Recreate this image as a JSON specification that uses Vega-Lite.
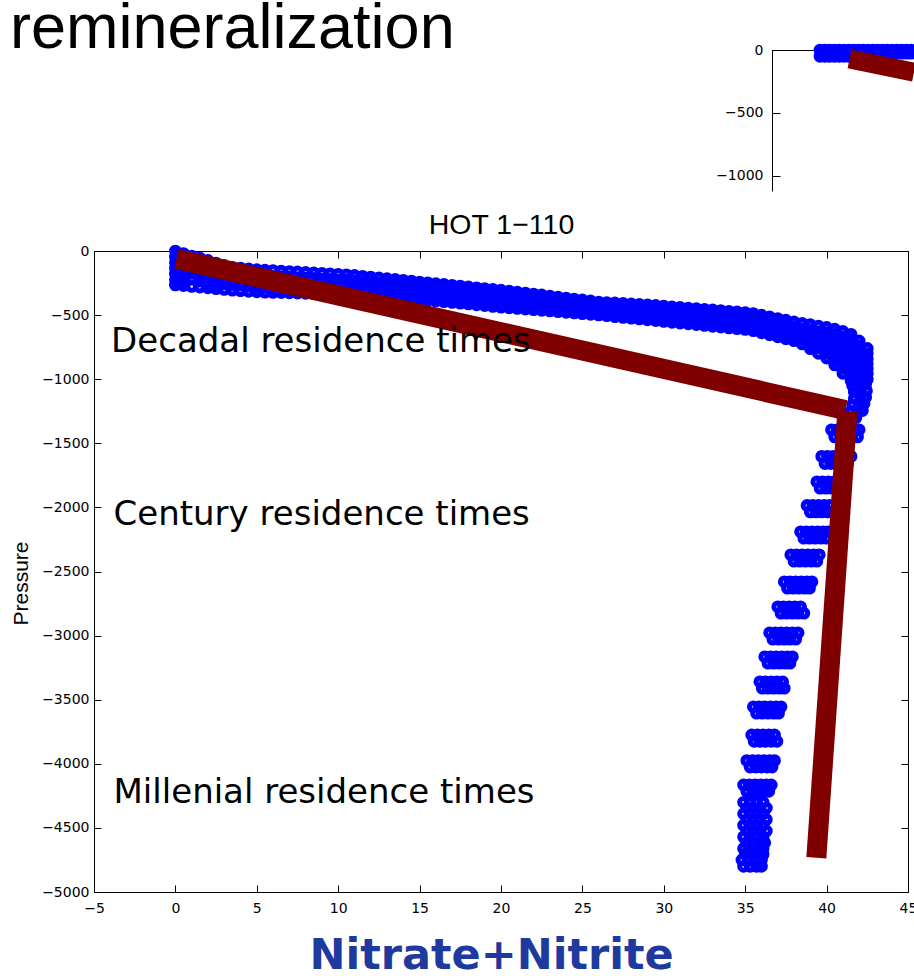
{
  "$schema": "https://vega.github.io/schema/vega-lite/v6.json",
  "background": "white",
  "padding": {"left": 10, "top": -3, "right": 0, "bottom": 0},
  "width": 814,
  "height": 641,
  "title": {
    "text": "remineralization",
    "anchor": "start",
    "frame": "group",
    "font": "Liberation Sans",
    "fontSize": 63,
    "fontWeight": "normal",
    "color": "black",
    "baseline": "alphabetic",
    "offset": -90,
    "dx": -84
  },
  "config": {
    "view": {"stroke": null},
    "font": "DejaVu Sans",
    "axis": {
      "grid": false,
      "domainColor": "black",
      "domainWidth": 1,
      "tickColor": "black",
      "tickWidth": 1,
      "labelColor": "black",
      "labelFont": "DejaVu Sans",
      "labelFontSize": 14,
      "labelFlush": false,
      "labelOverlap": false,
      "format": "d"
    }
  },
  "datasets": {
    "hot": [
      {"n":0,"p":0},{"n":0,"p":-45},{"n":0,"p":-90},{"n":0,"p":-135},{"n":0,"p":-180},{"n":0,"p":-225},{"n":0,"p":-265},
      {"n":0.25,"p":-22},{"n":0.25,"p":-67},{"n":0.25,"p":-112},{"n":0.25,"p":-157},{"n":0.25,"p":-202},{"n":0.25,"p":-247},
      {"n":0.5,"p":-20},{"n":0.5,"p":-65},{"n":0.5,"p":-110},{"n":0.5,"p":-155},{"n":0.5,"p":-200},{"n":0.5,"p":-245},{"n":0.5,"p":-270},
      {"n":1,"p":-40},{"n":1,"p":-85},{"n":1,"p":-130},{"n":1,"p":-175},{"n":1,"p":-220},{"n":1,"p":-276},
      {"n":1.5,"p":-55},{"n":1.5,"p":-100},{"n":1.5,"p":-145},{"n":1.5,"p":-190},{"n":1.5,"p":-235},{"n":1.5,"p":-281},
      {"n":2,"p":-74},{"n":2,"p":-120},{"n":2,"p":-165},{"n":2,"p":-210},{"n":2,"p":-250},{"n":2,"p":-287},
      {"n":2.5,"p":-94},{"n":2.5,"p":-140},{"n":2.5,"p":-185},{"n":2.5,"p":-230},{"n":2.5,"p":-270},{"n":2.5,"p":-294},
      {"n":3,"p":-113},{"n":3,"p":-160},{"n":3,"p":-205},{"n":3,"p":-255},{"n":3,"p":-300},
      {"n":3.5,"p":-127},{"n":3.5,"p":-172},{"n":3.5,"p":-217},{"n":3.5,"p":-262},{"n":3.5,"p":-306},
      {"n":4,"p":-133},{"n":4,"p":-178},{"n":4,"p":-222},{"n":4,"p":-266},{"n":4,"p":-310},
      {"n":4.5,"p":-140},{"n":4.5,"p":-185},{"n":4.5,"p":-230},{"n":4.5,"p":-272},{"n":4.5,"p":-314},
      {"n":5,"p":-146},{"n":5,"p":-190},{"n":5,"p":-235},{"n":5,"p":-278},{"n":5,"p":-318},
      {"n":5.5,"p":-150},{"n":5.5,"p":-195},{"n":5.5,"p":-240},{"n":5.5,"p":-282},{"n":5.5,"p":-321},
      {"n":6,"p":-153},{"n":6,"p":-198},{"n":6,"p":-243},{"n":6,"p":-285},{"n":6,"p":-323},
      {"n":6.5,"p":-156},{"n":6.5,"p":-200},{"n":6.5,"p":-245},{"n":6.5,"p":-288},{"n":6.5,"p":-324},
      {"n":7,"p":-160},{"n":7,"p":-204},{"n":7,"p":-248},{"n":7,"p":-290},{"n":7,"p":-326},
      {"n":7.5,"p":-163},{"n":7.5,"p":-207},{"n":7.5,"p":-251},{"n":7.5,"p":-292},{"n":7.5,"p":-328},
      {"n":8,"p":-167},{"n":8,"p":-210},{"n":8,"p":-254},{"n":8,"p":-295},{"n":8,"p":-330},
      {"n":8.5,"p":-171},{"n":8.5,"p":-214},{"n":8.5,"p":-257},{"n":8.5,"p":-298},{"n":8.5,"p":-332},
      {"n":9,"p":-174},{"n":9,"p":-218},{"n":9,"p":-260},{"n":9,"p":-300},{"n":9,"p":-335},
      {"n":9.5,"p":-178},{"n":9.5,"p":-222},{"n":9.5,"p":-263},{"n":9.5,"p":-302},{"n":9.5,"p":-337},
      {"n":10,"p":-182},{"n":10,"p":-225},{"n":10,"p":-266},{"n":10,"p":-305},{"n":10,"p":-340},
      {"n":10.5,"p":-186},{"n":10.5,"p":-228},{"n":10.5,"p":-270},{"n":10.5,"p":-308},{"n":10.5,"p":-342},
      {"n":11,"p":-191},{"n":11,"p":-232},{"n":11,"p":-273},{"n":11,"p":-312},{"n":11,"p":-345},
      {"n":11.5,"p":-197},{"n":11.5,"p":-237},{"n":11.5,"p":-277},{"n":11.5,"p":-315},{"n":11.5,"p":-349},
      {"n":12,"p":-203},{"n":12,"p":-242},{"n":12,"p":-282},{"n":12,"p":-320},{"n":12,"p":-353},
      {"n":12.5,"p":-210},{"n":12.5,"p":-248},{"n":12.5,"p":-286},{"n":12.5,"p":-324},{"n":12.5,"p":-357},
      {"n":13,"p":-216},{"n":13,"p":-253},{"n":13,"p":-290},{"n":13,"p":-328},{"n":13,"p":-361},
      {"n":13.5,"p":-222},{"n":13.5,"p":-258},{"n":13.5,"p":-295},{"n":13.5,"p":-332},{"n":13.5,"p":-365},
      {"n":14,"p":-229},{"n":14,"p":-264},{"n":14,"p":-300},{"n":14,"p":-336},{"n":14,"p":-369},
      {"n":14.5,"p":-235},{"n":14.5,"p":-270},{"n":14.5,"p":-305},{"n":14.5,"p":-340},{"n":14.5,"p":-374},
      {"n":15,"p":-242},{"n":15,"p":-276},{"n":15,"p":-310},{"n":15,"p":-345},{"n":15,"p":-379},
      {"n":15.5,"p":-248},{"n":15.5,"p":-282},{"n":15.5,"p":-316},{"n":15.5,"p":-350},{"n":15.5,"p":-384},
      {"n":16,"p":-255},{"n":16,"p":-288},{"n":16,"p":-322},{"n":16,"p":-356},{"n":16,"p":-390},
      {"n":16.5,"p":-261},{"n":16.5,"p":-295},{"n":16.5,"p":-328},{"n":16.5,"p":-362},{"n":16.5,"p":-395},
      {"n":17,"p":-268},{"n":17,"p":-301},{"n":17,"p":-334},{"n":17,"p":-368},{"n":17,"p":-401},
      {"n":17.5,"p":-274},{"n":17.5,"p":-307},{"n":17.5,"p":-340},{"n":17.5,"p":-374},{"n":17.5,"p":-407},
      {"n":18,"p":-280},{"n":18,"p":-313},{"n":18,"p":-346},{"n":18,"p":-380},{"n":18,"p":-413},
      {"n":18.5,"p":-287},{"n":18.5,"p":-320},{"n":18.5,"p":-353},{"n":18.5,"p":-387},{"n":18.5,"p":-420},
      {"n":19,"p":-293},{"n":19,"p":-326},{"n":19,"p":-359},{"n":19,"p":-393},{"n":19,"p":-426},
      {"n":19.5,"p":-299},{"n":19.5,"p":-332},{"n":19.5,"p":-365},{"n":19.5,"p":-399},{"n":19.5,"p":-432},
      {"n":20,"p":-306},{"n":20,"p":-339},{"n":20,"p":-372},{"n":20,"p":-405},{"n":20,"p":-438},
      {"n":20.5,"p":-313},{"n":20.5,"p":-345},{"n":20.5,"p":-378},{"n":20.5,"p":-410},{"n":20.5,"p":-443},
      {"n":21,"p":-321},{"n":21,"p":-353},{"n":21,"p":-385},{"n":21,"p":-416},{"n":21,"p":-448},
      {"n":21.5,"p":-328},{"n":21.5,"p":-359},{"n":21.5,"p":-390},{"n":21.5,"p":-422},{"n":21.5,"p":-453},
      {"n":22,"p":-336},{"n":22,"p":-366},{"n":22,"p":-397},{"n":22,"p":-428},{"n":22,"p":-458},
      {"n":22.5,"p":-343},{"n":22.5,"p":-373},{"n":22.5,"p":-403},{"n":22.5,"p":-433},{"n":22.5,"p":-463},
      {"n":23,"p":-351},{"n":23,"p":-380},{"n":23,"p":-410},{"n":23,"p":-439},{"n":23,"p":-468},
      {"n":23.5,"p":-359},{"n":23.5,"p":-387},{"n":23.5,"p":-416},{"n":23.5,"p":-445},{"n":23.5,"p":-473},
      {"n":24,"p":-367},{"n":24,"p":-395},{"n":24,"p":-423},{"n":24,"p":-450},{"n":24,"p":-478},
      {"n":24.5,"p":-375},{"n":24.5,"p":-402},{"n":24.5,"p":-429},{"n":24.5,"p":-456},{"n":24.5,"p":-483},
      {"n":25,"p":-382},{"n":25,"p":-409},{"n":25,"p":-436},{"n":25,"p":-462},{"n":25,"p":-489},
      {"n":25.5,"p":-390},{"n":25.5,"p":-416},{"n":25.5,"p":-442},{"n":25.5,"p":-468},{"n":25.5,"p":-494},
      {"n":26,"p":-398},{"n":26,"p":-423},{"n":26,"p":-448},{"n":26,"p":-474},{"n":26,"p":-499},
      {"n":26.5,"p":-402},{"n":26.5,"p":-428},{"n":26.5,"p":-454},{"n":26.5,"p":-480},{"n":26.5,"p":-505},
      {"n":27,"p":-405},{"n":27,"p":-432},{"n":27,"p":-459},{"n":27,"p":-485},{"n":27,"p":-512},
      {"n":27.5,"p":-409},{"n":27.5,"p":-436},{"n":27.5,"p":-464},{"n":27.5,"p":-491},{"n":27.5,"p":-518},
      {"n":28,"p":-413},{"n":28,"p":-441},{"n":28,"p":-469},{"n":28,"p":-496},{"n":28,"p":-524},
      {"n":28.5,"p":-417},{"n":28.5,"p":-445},{"n":28.5,"p":-474},{"n":28.5,"p":-502},{"n":28.5,"p":-530},
      {"n":29,"p":-420},{"n":29,"p":-449},{"n":29,"p":-478},{"n":29,"p":-508},{"n":29,"p":-537},
      {"n":29.5,"p":-425},{"n":29.5,"p":-455},{"n":29.5,"p":-484},{"n":29.5,"p":-514},{"n":29.5,"p":-543},
      {"n":30,"p":-430},{"n":30,"p":-460},{"n":30,"p":-490},{"n":30,"p":-520},{"n":30,"p":-549},
      {"n":30.5,"p":-435},{"n":30.5,"p":-465},{"n":30.5,"p":-495},{"n":30.5,"p":-526},{"n":30.5,"p":-556},
      {"n":31,"p":-440},{"n":31,"p":-470},{"n":31,"p":-501},{"n":31,"p":-531},{"n":31,"p":-562},
      {"n":31.5,"p":-445},{"n":31.5,"p":-476},{"n":31.5,"p":-506},{"n":31.5,"p":-537},{"n":31.5,"p":-568},
      {"n":32,"p":-450},{"n":32,"p":-481},{"n":32,"p":-512},{"n":32,"p":-543},{"n":32,"p":-574},
      {"n":32.5,"p":-455},{"n":32.5,"p":-486},{"n":32.5,"p":-518},{"n":32.5,"p":-549},{"n":32.5,"p":-581},
      {"n":33,"p":-460},{"n":33,"p":-492},{"n":33,"p":-523},{"n":33,"p":-555},{"n":33,"p":-587},
      {"n":33.5,"p":-465},{"n":33.5,"p":-497},{"n":33.5,"p":-529},{"n":33.5,"p":-561},{"n":33.5,"p":-593},
      {"n":34,"p":-470},{"n":34,"p":-502},{"n":34,"p":-535},{"n":34,"p":-567},{"n":34,"p":-600},
      {"n":34.5,"p":-475},{"n":34.5,"p":-508},{"n":34.5,"p":-540},{"n":34.5,"p":-573},{"n":34.5,"p":-606},
      {"n":35,"p":-480},{"n":35,"p":-513},{"n":35,"p":-546},{"n":35,"p":-579},{"n":35,"p":-612},
      {"n":35.5,"p":-488},{"n":35.5,"p":-521},{"n":35.5,"p":-555},{"n":35.5,"p":-588},{"n":35.5,"p":-622},
      {"n":36,"p":-501},{"n":36,"p":-535},{"n":36,"p":-569},{"n":36,"p":-604},{"n":36,"p":-638},
      {"n":36.5,"p":-514},{"n":36.5,"p":-549},{"n":36.5,"p":-584},{"n":36.5,"p":-619},{"n":36.5,"p":-654},
      {"n":37,"p":-527},{"n":37,"p":-562},{"n":37,"p":-598},{"n":37,"p":-633},{"n":37,"p":-669},
      {"n":37.5,"p":-540},{"n":37.5,"p":-576},{"n":37.5,"p":-612},{"n":37.5,"p":-648},{"n":37.5,"p":-685},
      {"n":38,"p":-553},{"n":38,"p":-590},{"n":38,"p":-626},{"n":38,"p":-663},{"n":38,"p":-700},
      {"n":38.5,"p":-565},{"n":38.5,"p":-605},{"n":38.5,"p":-645},{"n":38.5,"p":-685},{"n":38.5,"p":-725},
      {"n":39,"p":-575},{"n":39,"p":-613},{"n":39,"p":-650},{"n":39,"p":-688},{"n":39,"p":-725},{"n":39,"p":-762},
      {"n":39.5,"p":-586},{"n":39.5,"p":-628},{"n":39.5,"p":-670},{"n":39.5,"p":-712},{"n":39.5,"p":-755},{"n":39.5,"p":-798},
      {"n":40,"p":-596},{"n":40,"p":-636},{"n":40,"p":-676},{"n":40,"p":-716},{"n":40,"p":-756},{"n":40,"p":-796},{"n":40,"p":-835},
      {"n":40.5,"p":-610},{"n":40.5,"p":-650},{"n":40.5,"p":-690},{"n":40.5,"p":-730},{"n":40.5,"p":-770},{"n":40.5,"p":-810},{"n":40.5,"p":-850},{"n":40.5,"p":-889},
      {"n":41,"p":-627},{"n":41,"p":-668},{"n":41,"p":-709},{"n":41,"p":-750},{"n":41,"p":-791},{"n":41,"p":-832},{"n":41,"p":-873},{"n":41,"p":-914},{"n":41,"p":-954},
      {"n":41.5,"p":-650},{"n":41.5,"p":-690},{"n":41.5,"p":-730},{"n":41.5,"p":-770},{"n":41.5,"p":-810},{"n":41.5,"p":-850},{"n":41.5,"p":-890},{"n":41.5,"p":-930},{"n":41.5,"p":-970},{"n":41.5,"p":-1010},
      {"n":42,"p":-702},{"n":42,"p":-740},{"n":42,"p":-780},{"n":42,"p":-820},{"n":42,"p":-860},{"n":42,"p":-900},{"n":42,"p":-940},{"n":42,"p":-980},{"n":42,"p":-1032},
      {"n":42.5,"p":-760},{"n":42.5,"p":-800},{"n":42.5,"p":-840},{"n":42.5,"p":-880},{"n":42.5,"p":-920},{"n":42.5,"p":-960},{"n":42.5,"p":-1000},
      {"n":41.6,"p":-1050},{"n":42,"p":-1070},{"n":42.4,"p":-1040},{"n":41.7,"p":-1100},{"n":42.1,"p":-1110},{"n":42.45,"p":-1090},
      {"n":41.7,"p":-1150},{"n":42.1,"p":-1160},{"n":42.4,"p":-1140},{"n":41.6,"p":-1200},{"n":42,"p":-1210},{"n":42.3,"p":-1190},
      {"n":41.5,"p":-1250},{"n":41.9,"p":-1260},{"n":42.2,"p":-1245},{"n":41,"p":-1300},{"n":41.4,"p":-1310},{"n":41.8,"p":-1300},
      {"n":40.3,"p":-1395},{"n":40.65,"p":-1395},{"n":41,"p":-1395},{"n":41.35,"p":-1395},{"n":41.7,"p":-1395},{"n":42,"p":-1395},
      {"n":40.5,"p":-1450},{"n":40.85,"p":-1450},{"n":41.2,"p":-1450},{"n":41.55,"p":-1450},{"n":41.9,"p":-1450},
      {"n":39.7,"p":-1602},{"n":40.05,"p":-1602},{"n":40.4,"p":-1602},{"n":40.75,"p":-1602},{"n":41.1,"p":-1602},{"n":41.5,"p":-1602},
      {"n":39.9,"p":-1658},{"n":40.25,"p":-1658},{"n":40.6,"p":-1658},{"n":40.95,"p":-1658},{"n":41.3,"p":-1658},
      {"n":39.4,"p":-1800},{"n":39.75,"p":-1800},{"n":40.1,"p":-1800},{"n":40.45,"p":-1800},{"n":40.8,"p":-1800},{"n":41.1,"p":-1800},
      {"n":39.6,"p":-1850},{"n":39.95,"p":-1850},{"n":40.3,"p":-1850},{"n":40.65,"p":-1850},{"n":41,"p":-1850},
      {"n":38.8,"p":-1985},{"n":39.15,"p":-1985},{"n":39.5,"p":-1985},{"n":39.85,"p":-1985},{"n":40.2,"p":-1985},
      {"n":39,"p":-2035},{"n":39.35,"p":-2035},{"n":39.7,"p":-2035},{"n":40.05,"p":-2035},{"n":40.4,"p":-2035},
      {"n":38.4,"p":-2190},{"n":38.75,"p":-2190},{"n":39.1,"p":-2190},{"n":39.45,"p":-2190},{"n":39.8,"p":-2190},{"n":40.1,"p":-2190},
      {"n":38.6,"p":-2240},{"n":38.95,"p":-2240},{"n":39.3,"p":-2240},{"n":39.65,"p":-2240},{"n":40,"p":-2240},
      {"n":37.8,"p":-2370},{"n":38.15,"p":-2370},{"n":38.5,"p":-2370},{"n":38.85,"p":-2370},{"n":39.2,"p":-2370},{"n":39.55,"p":-2370},
      {"n":38,"p":-2420},{"n":38.35,"p":-2420},{"n":38.7,"p":-2420},{"n":39.05,"p":-2420},{"n":39.4,"p":-2420},
      {"n":37.4,"p":-2580},{"n":37.75,"p":-2580},{"n":38.1,"p":-2580},{"n":38.45,"p":-2580},{"n":38.8,"p":-2580},{"n":39.1,"p":-2580},
      {"n":37.6,"p":-2630},{"n":37.95,"p":-2630},{"n":38.3,"p":-2630},{"n":38.65,"p":-2630},{"n":38.95,"p":-2630},
      {"n":37,"p":-2775},{"n":37.35,"p":-2775},{"n":37.7,"p":-2775},{"n":38.05,"p":-2775},{"n":38.4,"p":-2775},
      {"n":37.2,"p":-2825},{"n":37.55,"p":-2825},{"n":37.9,"p":-2825},{"n":38.25,"p":-2825},{"n":38.6,"p":-2825},
      {"n":36.5,"p":-2978},{"n":36.85,"p":-2978},{"n":37.2,"p":-2978},{"n":37.55,"p":-2978},{"n":37.9,"p":-2978},{"n":38.25,"p":-2978},
      {"n":36.7,"p":-3028},{"n":37.05,"p":-3028},{"n":37.4,"p":-3028},{"n":37.75,"p":-3028},{"n":38.1,"p":-3028},
      {"n":36.2,"p":-3165},{"n":36.55,"p":-3165},{"n":36.9,"p":-3165},{"n":37.25,"p":-3165},{"n":37.6,"p":-3165},{"n":37.9,"p":-3165},
      {"n":36.4,"p":-3215},{"n":36.75,"p":-3215},{"n":37.1,"p":-3215},{"n":37.45,"p":-3215},{"n":37.75,"p":-3215},
      {"n":35.9,"p":-3360},{"n":36.25,"p":-3360},{"n":36.6,"p":-3360},{"n":36.95,"p":-3360},{"n":37.3,"p":-3360},
      {"n":36.05,"p":-3410},{"n":36.4,"p":-3410},{"n":36.75,"p":-3410},{"n":37.1,"p":-3410},{"n":37.4,"p":-3410},
      {"n":35.5,"p":-3555},{"n":35.85,"p":-3555},{"n":36.2,"p":-3555},{"n":36.55,"p":-3555},{"n":36.9,"p":-3555},{"n":37.2,"p":-3555},
      {"n":35.7,"p":-3605},{"n":36.05,"p":-3605},{"n":36.4,"p":-3605},{"n":36.75,"p":-3605},{"n":37.05,"p":-3605},
      {"n":35.4,"p":-3775},{"n":35.75,"p":-3775},{"n":36.1,"p":-3775},{"n":36.45,"p":-3775},{"n":36.8,"p":-3775},
      {"n":35.55,"p":-3825},{"n":35.9,"p":-3825},{"n":36.25,"p":-3825},{"n":36.6,"p":-3825},{"n":36.95,"p":-3825},
      {"n":35.1,"p":-3975},{"n":35.45,"p":-3975},{"n":35.8,"p":-3975},{"n":36.15,"p":-3975},{"n":36.5,"p":-3975},{"n":36.8,"p":-3975},
      {"n":35.3,"p":-4025},{"n":35.65,"p":-4025},{"n":36,"p":-4025},{"n":36.35,"p":-4025},{"n":36.65,"p":-4025},
      {"n":34.9,"p":-4165},{"n":35.25,"p":-4165},{"n":35.6,"p":-4165},{"n":35.95,"p":-4165},{"n":36.3,"p":-4165},{"n":36.6,"p":-4165},
      {"n":35.1,"p":-4215},{"n":35.45,"p":-4215},{"n":35.8,"p":-4215},{"n":36.15,"p":-4215},{"n":36.45,"p":-4215},
      {"n":34.9,"p":-4300},{"n":35.3,"p":-4300},{"n":35.7,"p":-4300},{"n":36.1,"p":-4300},
      {"n":35.1,"p":-4345},{"n":35.5,"p":-4345},{"n":35.9,"p":-4345},{"n":36.3,"p":-4345},
      {"n":34.9,"p":-4390},{"n":35.3,"p":-4390},{"n":35.7,"p":-4390},{"n":36.1,"p":-4390},
      {"n":35.1,"p":-4435},{"n":35.5,"p":-4435},{"n":35.9,"p":-4435},{"n":36.3,"p":-4435},
      {"n":34.9,"p":-4480},{"n":35.3,"p":-4480},{"n":35.7,"p":-4480},{"n":36.1,"p":-4480},
      {"n":35.1,"p":-4525},{"n":35.5,"p":-4525},{"n":35.9,"p":-4525},{"n":36.3,"p":-4525},
      {"n":34.9,"p":-4570},{"n":35.3,"p":-4570},{"n":35.7,"p":-4570},{"n":36.1,"p":-4570},
      {"n":35.1,"p":-4615},{"n":35.5,"p":-4615},{"n":35.9,"p":-4615},{"n":36.2,"p":-4615},
      {"n":34.9,"p":-4660},{"n":35.3,"p":-4660},{"n":35.7,"p":-4660},{"n":36.1,"p":-4660},
      {"n":35,"p":-4705},{"n":35.4,"p":-4705},{"n":35.8,"p":-4705},{"n":36.1,"p":-4705},
      {"n":34.8,"p":-4750},{"n":35.2,"p":-4750},{"n":35.6,"p":-4750},{"n":36,"p":-4750},
      {"n":34.9,"p":-4800},{"n":35.3,"p":-4800},{"n":35.7,"p":-4800},{"n":36,"p":-4800}
    ],
    "trend": [
      {"seg":"upper","n":0.06,"p":-62},{"seg":"upper","n":41.15,"p":-1240},
      {"seg":"deep","n":41.28,"p":-1248},{"seg":"deep","n":39.37,"p":-4733}
    ],
    "notes": [
      {"label":"Decadal residence times","n":-3.95,"p":-788},
      {"label":"Century residence times","n":-3.8,"p":-2137},
      {"label":"Millenial residence times","n":-3.8,"p":-4304}
    ],
    "surface": [
      {"n":1.0,"p":0},{"n":1.6,"p":0},{"n":2.2,"p":0},{"n":2.8,"p":0},{"n":3.4,"p":0},{"n":4.0,"p":0},{"n":4.6,"p":0},{"n":5.2,"p":0},{"n":5.8,"p":0},{"n":6.4,"p":0},
      {"n":7.0,"p":0},{"n":7.6,"p":0},{"n":8.2,"p":0},{"n":8.8,"p":0},{"n":9.4,"p":0},{"n":10.0,"p":0},{"n":10.6,"p":0},{"n":11.2,"p":0},{"n":11.8,"p":0},{"n":12.4,"p":0},
      {"n":1.1,"p":-25},{"n":1.7,"p":-25},{"n":2.3,"p":-25},{"n":2.9,"p":-25},{"n":3.5,"p":-25},{"n":4.1,"p":-25},{"n":4.7,"p":-25},{"n":5.3,"p":-25},{"n":5.9,"p":-25},{"n":6.5,"p":-25},
      {"n":7.1,"p":-25},{"n":7.7,"p":-25},{"n":8.3,"p":-25},{"n":8.9,"p":-25},{"n":9.5,"p":-25},{"n":10.1,"p":-25},{"n":10.7,"p":-25},{"n":11.3,"p":-25},{"n":11.9,"p":-25},{"n":12.4,"p":-25},
      {"n":1.0,"p":-50},{"n":1.6,"p":-50},{"n":2.2,"p":-50},{"n":2.8,"p":-50},{"n":3.4,"p":-50},{"n":4.0,"p":-50},{"n":4.6,"p":-50},{"n":5.2,"p":-50}
    ],
    "surface_trend": [
      {"n":4.69,"p":-71},{"n":12.75,"p":-176}
    ]
  },
  "layer": [
    {
      "data": {"name": "surface"},
      "mark": {"type": "point", "shape": "circle", "filled": false, "color": "#0000ff", "size": 60, "strokeWidth": 5, "opacity": 1},
      "encoding": {
        "x": {"field": "n", "type": "quantitative", "scale": {"domain": [-5, 12.75], "range": [678, 820], "nice": false, "zero": false},
              "axis": {"orient": "top", "offset": 201, "labels": false, "ticks": false, "title": null}},
        "y": {"field": "p", "type": "quantitative", "scale": {"domain": [-1120, 0], "range": [-60, -201], "nice": false, "zero": false},
              "axis": {"orient": "left", "offset": -678, "values": [-1000, -500, 0], "tickSize": -8, "labelPadding": 17, "title": null}}
      }
    },
    {
      "data": {"name": "surface_trend"},
      "mark": {"type": "line", "color": "#800000", "strokeWidth": 19, "strokeCap": "butt"},
      "encoding": {
        "x": {"field": "n", "type": "quantitative", "scale": {"domain": [-5, 12.75], "range": [678, 820], "nice": false, "zero": false}, "axis": null},
        "y": {"field": "p", "type": "quantitative", "scale": {"domain": [-1120, 0], "range": [-60, -201], "nice": false, "zero": false}, "axis": null}
      }
    },
    {
      "data": {"name": "hot"},
      "mark": {"type": "point", "shape": "circle", "filled": false, "color": "#0000ff", "size": 60, "strokeWidth": 5, "opacity": 1},
      "encoding": {
        "x": {"field": "n", "type": "quantitative", "scale": {"domain": [-5, 45], "nice": false, "zero": false},
              "axis": {"orient": "bottom", "values": [-5, 0, 5, 10, 15, 20, 25, 30, 35, 40, 45], "tickSize": -7, "labelPadding": 16,
                       "title": "Nitrate+Nitrite", "titleFont": "DejaVu Sans", "titleFontSize": 43, "titleFontWeight": "bold",
                       "titleColor": "#1f3a9e", "titleX": 397, "titleY": 76, "titleBaseline": "alphabetic", "titleAlign": "center"}},
        "y": {"field": "p", "type": "quantitative", "scale": {"domain": [-5000, 0], "nice": false, "zero": false},
              "axis": {"orient": "left", "values": [-5000, -4500, -4000, -3500, -3000, -2500, -2000, -1500, -1000, -500, 0],
                       "tickSize": -7, "labelPadding": 12,
                       "title": "Pressure", "titleFont": "Liberation Sans", "titleFontSize": 21, "titleFontWeight": "normal",
                       "titleColor": "black", "titleX": -67, "titleY": 332, "titleBaseline": "alphabetic", "titleAlign": "center", "titleAngle": -90}}
      }
    },
    {
      "data": {"name": "trend"},
      "mark": {"type": "line", "color": "#800000", "strokeWidth": 20, "strokeCap": "butt"},
      "encoding": {
        "x": {"field": "n", "type": "quantitative", "scale": {"domain": [-5, 45], "nice": false, "zero": false},
              "axis": {"orient": "top", "values": [-5, 0, 5, 10, 15, 20, 25, 30, 35, 40, 45], "tickSize": -7, "labels": false,
                       "title": "HOT 1−110", "titleFont": "Liberation Sans", "titleFontSize": 28.5, "titleFontWeight": "normal",
                       "titleColor": "black", "titleX": 407, "titleY": -18, "titleBaseline": "alphabetic", "titleAlign": "center"}},
        "y": {"field": "p", "type": "quantitative", "scale": {"domain": [-5000, 0], "nice": false, "zero": false},
              "axis": {"orient": "right", "values": [-5000, -4500, -4000, -3500, -3000, -2500, -2000, -1500, -1000, -500, 0], "tickSize": -7, "labels": false, "title": null}},
        "detail": {"field": "seg"}
      }
    },
    {
      "data": {"name": "notes"},
      "mark": {"type": "text", "align": "left", "baseline": "alphabetic", "font": "DejaVu Sans", "fontSize": 34, "color": "black"},
      "encoding": {
        "x": {"field": "n", "type": "quantitative", "scale": {"domain": [-5, 45], "nice": false, "zero": false}, "axis": null},
        "y": {"field": "p", "type": "quantitative", "scale": {"domain": [-5000, 0], "nice": false, "zero": false}, "axis": null},
        "text": {"field": "label"}
      }
    }
  ],
  "resolve": {
    "scale": {"x": "independent", "y": "independent"},
    "axis": {"x": "independent", "y": "independent"}
  }
}
